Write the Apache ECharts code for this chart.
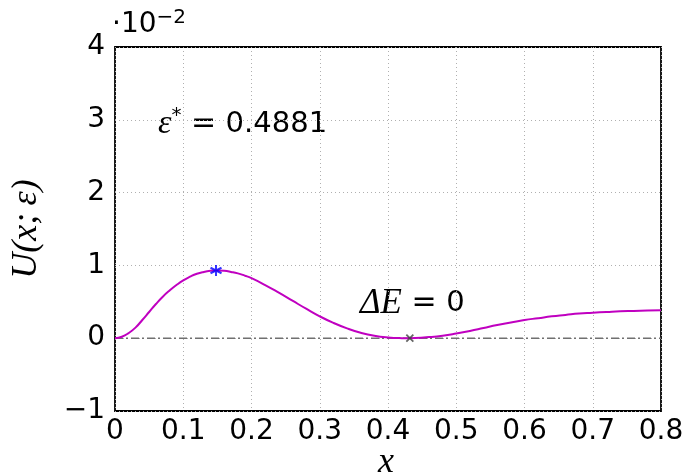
<!DOCTYPE html>
<html>
<head>
<meta charset="utf-8">
<script src="https://cdn.jsdelivr.net/npm/echarts@6/dist/echarts.min.js"></script>
<style>
  html, body { margin: 0; padding: 0; background: #fff; }
  #chart { width: 685px; height: 476px; }
</style>
</head>
<body>
<div id="chart"></div>
<script>
// U(x; eps) values, in units of 1e-2
var xs = [0, 0.01, 0.02, 0.03, 0.04, 0.05, 0.06, 0.07, 0.08, 0.09, 0.10,
  0.11, 0.12, 0.13, 0.14, 0.15, 0.16, 0.17, 0.18, 0.19, 0.20,
  0.22, 0.24, 0.26, 0.28, 0.30, 0.32, 0.34, 0.36, 0.38, 0.40,
  0.42, 0.43, 0.44, 0.46, 0.48, 0.50, 0.52, 0.54, 0.56, 0.58, 0.60,
  0.62, 0.64, 0.66, 0.68, 0.70, 0.72, 0.74, 0.76, 0.78, 0.80]
var us = [0, 0.02, 0.07, 0.145, 0.25, 0.36, 0.47, 0.57, 0.655, 0.73, 0.795,
  0.845, 0.885, 0.91, 0.925, 0.93, 0.925, 0.91, 0.89, 0.86, 0.825,
  0.73, 0.625, 0.515, 0.405, 0.30, 0.21, 0.135, 0.075, 0.033, 0.01,
  0.001, 0, 0.002, 0.015, 0.035, 0.065, 0.10, 0.14, 0.18, 0.215, 0.25,
  0.275, 0.30, 0.32, 0.34, 0.35, 0.36, 0.37, 0.375, 0.38, 0.385]
var maxPoint = [0.148, 0.93]
var minPoint = [0.432, 0]
var xRange = [0, 0.8]

var curve = xs.map(function (x, i) { return [x, us[i]] })

var tickFont = 'DejaVu Sans'
var mathFont = 'Liberation Serif'

var chart = echarts.init(document.getElementById('chart'))
chart.setOption({
  animation: false,
  grid: {
    left: 115, right: 24, top: 47, bottom: 65,
    outerBoundsMode: 'none',
    show: true, borderColor: '#000', borderWidth: 1.8
  },
  xAxis: {
    type: 'value', min: 0, max: 0.8, interval: 0.1,
    axisLine: { show: false },
    axisTick: { show: false },
    axisLabel: { color: '#000', fontFamily: tickFont, fontSize: 28, margin: 7 },
    splitLine: { show: true, lineStyle: { color: '#b0b0b0', type: [1, 3], width: 1 } }
  },
  yAxis: {
    type: 'value', min: -1, max: 4, interval: 1,
    name: 'U(x;\u2009\u03b5)', nameLocation: 'middle', nameGap: 70, nameRotate: 90,
    nameTextStyle: { fontFamily: mathFont, fontStyle: 'italic', fontSize: 36, color: '#000' },
    axisLine: { show: false },
    axisTick: { show: false },
    axisLabel: {
      color: '#000', fontFamily: tickFont, fontSize: 28, margin: 10,
      formatter: function (v) { return v < 0 ? '\u2212' + (-v) : String(v) }
    },
    splitLine: { show: true, lineStyle: { color: '#b0b0b0', type: [1, 3], width: 1 } }
  },
  series: [
    {
      type: 'line', data: [[xRange[0], 0], [xRange[1], 0]], symbol: 'none',
      lineStyle: { color: '#707070', width: 1.5, type: [8, 3, 2, 3] }, z: 2
    },
    {
      type: 'line', data: curve, symbol: 'none', smooth: 0.5,
      lineStyle: { color: '#c000c0', width: 2 }, z: 3
    },
    {
      type: 'scatter', data: [maxPoint], symbolSize: 11,
      symbol: 'path://M0,-1L0,1M-0.87,-0.5L0.87,0.5M-0.87,0.5L0.87,-0.5',
      itemStyle: { color: 'none', borderColor: '#0000ff', borderWidth: 2 }, z: 4
    },
    {
      type: 'scatter', data: [minPoint], symbolSize: 7,
      symbol: 'path://M-1,-1L1,1M-1,1L1,-1',
      itemStyle: { color: 'none', borderColor: '#404040', borderWidth: 1.8 }, z: 4
    }
  ],
  graphic: [
    {
      type: 'text', left: 378, top: 445,
      style: { text: 'x', fontFamily: mathFont, fontStyle: 'italic', fontSize: 36, fill: '#000' }
    },
    {
      type: 'text', left: 112, top: 8,
      style: {
        text: '{n|\u00b710}{s|\u22122}',
        rich: {
          n: { fontFamily: tickFont, fontSize: 28, fill: '#000' },
          s: { fontFamily: tickFont, fontSize: 20, fill: '#000', padding: [0, 0, 14, 0] }
        }
      }
    },
    {
      type: 'text', left: 158, top: 106,
      style: {
        text: '{i|\u03b5}{s|*}{e| = }{n|0.4881}',
        rich: {
          i: { fontFamily: mathFont, fontStyle: 'italic', fontSize: 34, fill: '#000' },
          s: { fontFamily: tickFont, fontSize: 20, fill: '#000', padding: [0, 0, 16, 0] },
          e: { fontFamily: tickFont, fontSize: 30, fill: '#000' },
          n: { fontFamily: tickFont, fontSize: 29, fill: '#000' }
        }
      }
    },
    {
      type: 'text', left: 360, top: 286,
      style: {
        text: '{i|\u0394E}{e| = }{n|0}',
        rich: {
          i: { fontFamily: mathFont, fontStyle: 'italic', fontSize: 35, fill: '#000' },
          e: { fontFamily: tickFont, fontSize: 30, fill: '#000' },
          n: { fontFamily: tickFont, fontSize: 29, fill: '#000' }
        }
      }
    }
  ]
})
</script>
</body>
</html>
